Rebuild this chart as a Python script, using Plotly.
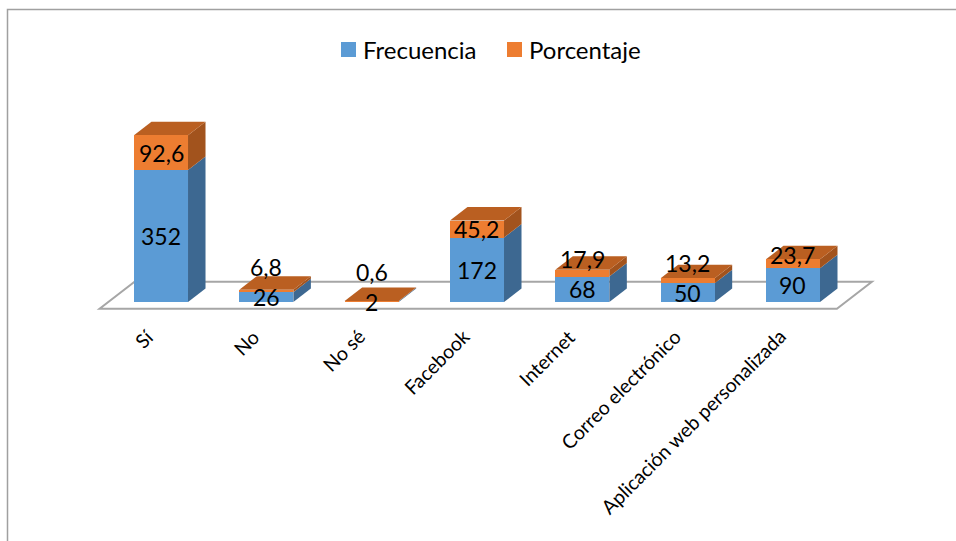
import plotly.graph_objects as go

# ---- data ----
categorias = ["Sí", "No", "No sé", "Facebook", "Internet",
              "Correo electrónico", "Aplicación web personalizada"]
frecuencia = [352, 26, 2, 172, 68, 50, 90]
porcentaje = [92.6, 6.8, 0.6, 45.2, 17.9, 13.2, 23.7]
etiquetas_frec = ["352", "26", "2", "172", "68", "50", "90"]
etiquetas_porc = ["92,6", "6,8", "0,6", "45,2", "17,9", "13,2", "23,7"]
series = ["Frecuencia", "Porcentaje"]

# ---- page geometry (pixels) ----
W, H = 956, 541
PL, PR, PT, PB = 60, 910, 100, 330        # plot area box
CAT0_PX, CAT_STEP_PX = 161, 105.33         # first category centre, spacing
ZERO_PX, PX_PER_UNIT = 302, 0.375          # baseline and value scale

x_range = [(PL - CAT0_PX) / CAT_STEP_PX, (PR - CAT0_PX) / CAT_STEP_PX]
y_range = [(ZERO_PX - PB) / PX_PER_UNIT, (ZERO_PX - PT) / PX_PER_UNIT]

# 3-D look: depth offset of a box (right/up), expressed in axis units
DEPTH_X = 17.5 / CAT_STEP_PX
DEPTH_Y = 13.5 / PX_PER_UNIT
BAR_W = 0.513

BLUE, BLUE_SIDE = "#5B9BD5", "#3D6891"
ORANGE, ORANGE_SIDE, ORANGE_TOP = "#ED7D31", "#A2531D", "#BA5F21"
FONT = "Lato"


def path(pts):
    return "M " + " L ".join(f"{x},{y}" for x, y in pts) + " Z"


def px_to_paper(px, py):
    return (px - PL) / (PR - PL), (PB - py) / (PB - PT)


n = len(categorias)
xs = list(range(n))

fig = go.Figure()
fig.add_trace(go.Bar(x=xs, y=frecuencia, name=series[0], showlegend=False,
                     marker=dict(color=BLUE, line=dict(width=0)), width=BAR_W))
fig.add_trace(go.Bar(x=xs, y=porcentaje, name=series[1], showlegend=False,
                     marker=dict(color=ORANGE, line=dict(width=0)), width=BAR_W))

shapes = []
annotations = []

# floor of the 3-D box
fx0, fx1 = -0.5 - DEPTH_X / 2, n - 0.5 - DEPTH_X / 2
fy = -DEPTH_Y / 2
floor = [(fx0, fy), (fx1, fy), (fx1 + 2 * DEPTH_X, fy + 2 * DEPTH_Y),
         (fx0 + 2 * DEPTH_X, fy + 2 * DEPTH_Y)]
shapes.append(dict(type="path", xref="x", yref="y", path=path(floor),
                   fillcolor="white", line=dict(color="#A6A6A6", width=2),
                   layer="below"))

# side and top faces of every stacked column
for i, (f, p) in enumerate(zip(frecuencia, porcentaje)):
    xl, xr = i - BAR_W / 2, i + BAR_W / 2
    for y0, y1, col in ((0, f, BLUE_SIDE), (f, f + p, ORANGE_SIDE)):
        side = [(xr, y0), (xr + DEPTH_X, y0 + DEPTH_Y),
                (xr + DEPTH_X, y1 + DEPTH_Y), (xr, y1)]
        shapes.append(dict(type="path", xref="x", yref="y", path=path(side),
                           fillcolor=col, line=dict(width=0), layer="below"))
    t = f + p
    top = [(xl, t), (xr, t), (xr + DEPTH_X, t + DEPTH_Y), (xl + DEPTH_X, t + DEPTH_Y)]
    shapes.append(dict(type="path", xref="x", yref="y", path=path(top),
                       fillcolor=ORANGE_TOP, line=dict(width=0), layer="below"))

# chart frame (left and top edges visible on the page)
bx0, by0 = px_to_paper(7.5, 9.5)
bx1, by1 = px_to_paper(W + 20, H + 20)
shapes.append(dict(type="rect", xref="paper", yref="paper", x0=bx0, y0=by1,
                   x1=bx1, y1=by0, line=dict(color="#A0A0A0", width=1.5),
                   fillcolor="rgba(0,0,0,0)"))

# value labels: centred on each segment, the upper one pushed clear of the lower
min_gap = 30 / PX_PER_UNIT
label_font = dict(family=FONT, size=23, color="black")
for i, (f, p) in enumerate(zip(frecuencia, porcentaje)):
    yb = f / 2
    yo = max(f + p / 2, yb + min_gap)
    annotations.append(dict(x=i, y=yb, xref="x", yref="y", text=etiquetas_frec[i],
                            showarrow=False, font=label_font))
    annotations.append(dict(x=i, y=yo, xref="x", yref="y", text=etiquetas_porc[i],
                            showarrow=False, font=label_font))

# category labels, slanted, ending just under each column
_, cat_y = px_to_paper(0, 322)
for i, c in enumerate(categorias):
    annotations.append(dict(x=i, y=cat_y, xref="x", yref="paper",
                            text=c, showarrow=False, textangle=-45,
                            xanchor="right", yanchor="top",
                            font=dict(family=FONT, size=19.5, color="black")))

# legend: coloured squares followed by the series names
for (sq_px, txt_px), name, col in zip(((341, 363), (507, 529)), series, (BLUE, ORANGE)):
    x0, y0 = px_to_paper(sq_px, 57)
    x1, y1 = px_to_paper(sq_px + 15, 42)
    shapes.append(dict(type="rect", xref="paper", yref="paper", x0=x0, y0=y0,
                       x1=x1, y1=y1, fillcolor=col, line=dict(width=0)))
    tx, ty = px_to_paper(txt_px - 2, 49.5)
    annotations.append(dict(x=tx, y=ty, xref="paper", yref="paper", text=name,
                            showarrow=False, xanchor="left", yanchor="middle",
                            font=dict(family=FONT, size=24, color="black")))

fig.update_layout(
    width=W, height=H, autosize=False,
    margin=dict(l=PL, r=W - PR, t=PT, b=H - PB, pad=0),
    paper_bgcolor="white", plot_bgcolor="white",
    barmode="stack", bargap=0,
    shapes=shapes, annotations=annotations,
    showlegend=False,
    xaxis=dict(range=x_range, showticklabels=False, showgrid=False, zeroline=False,
               showline=False, ticks=""),
    yaxis=dict(range=y_range, visible=False, showgrid=False, zeroline=False),
    font=dict(family=FONT),
)

fig.write_html("out.html")
